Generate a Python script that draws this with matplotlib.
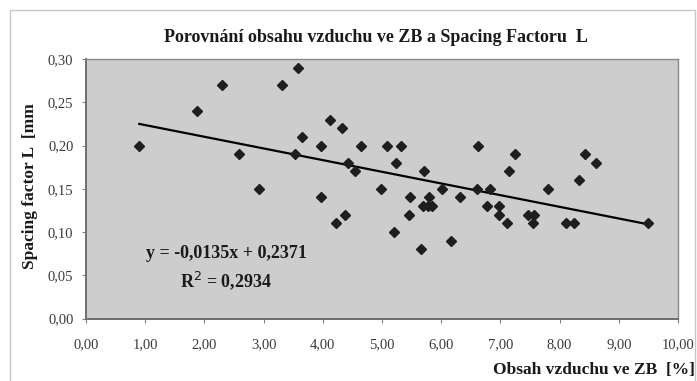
import matplotlib
matplotlib.use('Agg')
import matplotlib.pyplot as plt
from matplotlib.patches import Rectangle

plt.rcParams['font.family'] = ['Liberation Serif', 'DejaVu Serif']

# air content in hardened concrete [%] vs. spacing factor L [mm]
air_content = [0.90, 1.87, 2.29, 2.59, 2.92, 3.31, 3.53, 3.58, 3.65, 3.97,
               3.97, 4.12, 4.22, 4.32, 4.38, 4.42, 4.54, 4.64, 4.98, 5.09,
               5.20, 5.24, 5.32, 5.46, 5.48, 5.66, 5.71, 5.70, 5.78, 5.85,
               5.80, 6.02, 6.16, 6.32, 6.60, 6.62, 6.77, 6.82, 6.98, 6.98,
               7.11, 7.14, 7.24, 7.47, 7.56, 7.55, 7.81, 8.10, 8.24, 8.33,
               8.43, 8.61, 9.50]
spacing_factor = [0.20, 0.24, 0.27, 0.19, 0.15, 0.27, 0.19, 0.29, 0.21, 0.20,
                  0.14, 0.23, 0.11, 0.22, 0.12, 0.18, 0.17, 0.20, 0.15, 0.20,
                  0.10, 0.18, 0.20, 0.12, 0.14, 0.08, 0.17, 0.13, 0.13, 0.13,
                  0.14, 0.15, 0.09, 0.14, 0.15, 0.20, 0.13, 0.15, 0.13, 0.12,
                  0.11, 0.17, 0.19, 0.12, 0.12, 0.11, 0.15, 0.11, 0.11, 0.16,
                  0.19, 0.18, 0.11]

# linear trend reported in the chart
slope = -0.0135
intercept = 0.2371
r_squared = 0.2934

x_ticks = [0, 1, 2, 3, 4, 5, 6, 7, 8, 9, 10]
y_ticks = [0.00, 0.05, 0.10, 0.15, 0.20, 0.25, 0.30]

W, H = 697, 381


def comma(v):
    return f'{v:.2f}'.replace('.', ',')


def fx(px):
    return px / W


def fy(py):
    # pixel row measured from the top -> figure fraction
    return 1 - py / H


fig = plt.figure(figsize=(W / 100, H / 100), dpi=100)
fig.patch.set_facecolor('white')

# chart frame
fig.patches.append(Rectangle((fx(10), -0.05), fx(685), fy(10) + 0.05,
                             transform=fig.transFigure, facecolor='none',
                             edgecolor='#c8c8c8', lw=1.0))

ax = fig.add_axes([fx(86), fy(318.5), fx(592), 259.5 / H])
ax.set_facecolor('#cdcdcd')

ax.plot(air_content, spacing_factor, linestyle='none', marker='D', ms=5,
        color='#1e1e1e', zorder=3)

x0, x1 = min(air_content), max(air_content)
ax.plot([x0, x1], [slope * x0 + intercept, slope * x1 + intercept],
        color='black', lw=1.6, zorder=2)

ax.set_xlim(0, 10)
ax.set_ylim(0, 0.30)
ax.set_xticks(x_ticks)
ax.set_yticks(y_ticks)
ax.set_xticklabels([comma(v) for v in x_ticks], fontsize=10.5, color='#3a3a3a')
ax.set_yticklabels([comma(v) for v in y_ticks], fontsize=10.5, color='#3a3a3a')
ax.tick_params(direction='out', length=3, width=0.8, color='#808080', pad=11)
ax.tick_params(axis='y', pad=6)

for side in ['top', 'right']:
    ax.spines[side].set_color('#8a8a8a')
    ax.spines[side].set_linewidth(1.0)
for side in ['left', 'bottom']:
    ax.spines[side].set_color('#6e6e6e')
    ax.spines[side].set_linewidth(1.4)

eq = f'y = {slope:.4f}x + {intercept:.4f}'.replace('.', ',')
fig.text(fx(226), fy(253), eq, fontsize=13, fontweight='bold',
         ha='center', va='center', color='#1a1a1a')
fig.text(fx(226), fy(281), f'R$^2$ = {r_squared:.4f}'.replace('.', ','),
         fontsize=13, fontweight='bold', ha='center', va='center', color='#1a1a1a')

fig.text(fx(376), fy(37), 'Porovnání obsahu vzduchu ve ZB a Spacing Factoru  L',
         fontsize=13, fontweight='bold', ha='center', va='center', color='#1a1a1a')
fig.text(fx(695), fy(370), 'Obsah vzduchu ve ZB  [%]', fontsize=12.5,
         fontweight='bold', ha='right', va='center', color='#1a1a1a')
fig.text(fx(30), fy(186), 'Spacing factor L  [mm', fontsize=12.5,
         fontweight='bold', ha='center', va='center', rotation=90, color='#1a1a1a')

fig.savefig('out.png', dpi=100)
